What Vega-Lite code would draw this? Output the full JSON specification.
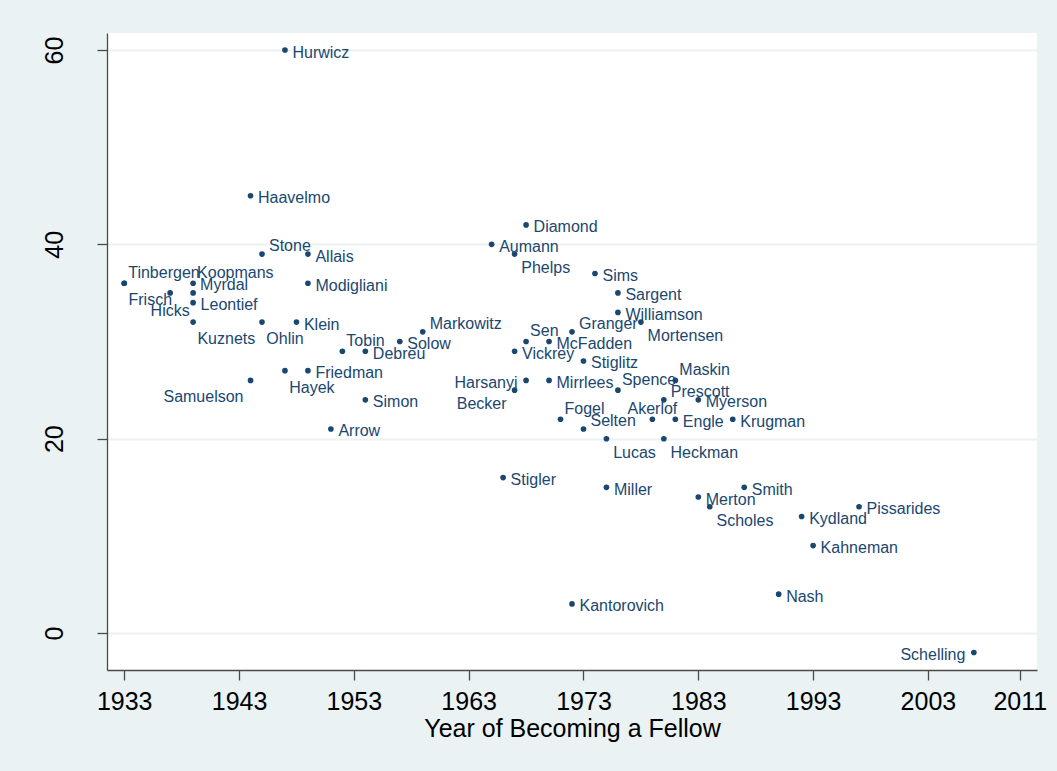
{
  "$schema": "https://vega.github.io/schema/vega-lite/v6.json",
  "width": 930,
  "height": 637,
  "autosize": {"type": "none"},
  "padding": {"left": 107, "top": 33, "right": 20, "bottom": 101},
  "background": "#EAF2F3",
  "config": {"view": {"fill": "white", "stroke": null}, "font": "Liberation Sans"},
  "data": {"values": [
    {"name": "Hurwicz", "fellow": 1947, "lag": 60, "labpos": 3},
    {"name": "Haavelmo", "fellow": 1944, "lag": 45, "labpos": 3},
    {"name": "Stone", "fellow": 1945, "lag": 39, "labpos": 2},
    {"name": "Allais", "fellow": 1949, "lag": 39, "labpos": 3},
    {"name": "Tinbergen", "fellow": 1933, "lag": 36, "labpos": 1},
    {"name": "Frisch", "fellow": 1933, "lag": 36, "labpos": 5},
    {"name": "Koopmans", "fellow": 1939, "lag": 36, "labpos": 1},
    {"name": "Myrdal", "fellow": 1939, "lag": 35, "labpos": 2},
    {"name": "Hicks", "fellow": 1937, "lag": 35, "labpos": 6},
    {"name": "Leontief", "fellow": 1939, "lag": 34, "labpos": 3},
    {"name": "Modigliani", "fellow": 1949, "lag": 36, "labpos": 3},
    {"name": "Kuznets", "fellow": 1939, "lag": 32, "labpos": 5},
    {"name": "Ohlin", "fellow": 1945, "lag": 32, "labpos": 5},
    {"name": "Klein", "fellow": 1948, "lag": 32, "labpos": 3},
    {"name": "Tobin", "fellow": 1952, "lag": 29, "labpos": 1},
    {"name": "Debreu", "fellow": 1954, "lag": 29, "labpos": 3},
    {"name": "Solow", "fellow": 1957, "lag": 30, "labpos": 3},
    {"name": "Markowitz", "fellow": 1959, "lag": 31, "labpos": 2},
    {"name": "Friedman", "fellow": 1949, "lag": 27, "labpos": 3},
    {"name": "Hayek", "fellow": 1947, "lag": 27, "labpos": 5},
    {"name": "Samuelson", "fellow": 1944, "lag": 26, "labpos": 7},
    {"name": "Simon", "fellow": 1954, "lag": 24, "labpos": 3},
    {"name": "Arrow", "fellow": 1951, "lag": 21, "labpos": 3},
    {"name": "Diamond", "fellow": 1968, "lag": 42, "labpos": 3},
    {"name": "Aumann", "fellow": 1965, "lag": 40, "labpos": 3},
    {"name": "Phelps", "fellow": 1967, "lag": 39, "labpos": 4},
    {"name": "Sims", "fellow": 1974, "lag": 37, "labpos": 3},
    {"name": "Sargent", "fellow": 1976, "lag": 35, "labpos": 3},
    {"name": "Williamson", "fellow": 1976, "lag": 33, "labpos": 3},
    {"name": "Mortensen", "fellow": 1978, "lag": 32, "labpos": 4},
    {"name": "Granger", "fellow": 1972, "lag": 31, "labpos": 2},
    {"name": "Sen", "fellow": 1968, "lag": 30, "labpos": 1},
    {"name": "McFadden", "fellow": 1970, "lag": 30, "labpos": 3},
    {"name": "Vickrey", "fellow": 1967, "lag": 29, "labpos": 3},
    {"name": "Stiglitz", "fellow": 1973, "lag": 28, "labpos": 3},
    {"name": "Harsanyi", "fellow": 1968, "lag": 26, "labpos": 9},
    {"name": "Becker", "fellow": 1967, "lag": 25, "labpos": 8},
    {"name": "Mirrlees", "fellow": 1970, "lag": 26, "labpos": 3},
    {"name": "Spence", "fellow": 1976, "lag": 25, "labpos": 1},
    {"name": "Maskin", "fellow": 1981, "lag": 26, "labpos": 1},
    {"name": "Prescott", "fellow": 1980, "lag": 24, "labpos": 2},
    {"name": "Myerson", "fellow": 1983, "lag": 24, "labpos": 3},
    {"name": "Akerlof", "fellow": 1979, "lag": 22, "labpos": 12},
    {"name": "Engle", "fellow": 1981, "lag": 22, "labpos": 3},
    {"name": "Krugman", "fellow": 1986, "lag": 22, "labpos": 3},
    {"name": "Fogel", "fellow": 1971, "lag": 22, "labpos": 1},
    {"name": "Selten", "fellow": 1973, "lag": 21, "labpos": 2},
    {"name": "Lucas", "fellow": 1975, "lag": 20, "labpos": 4},
    {"name": "Heckman", "fellow": 1980, "lag": 20, "labpos": 4},
    {"name": "Stigler", "fellow": 1966, "lag": 16, "labpos": 3},
    {"name": "Miller", "fellow": 1975, "lag": 15, "labpos": 3},
    {"name": "Merton", "fellow": 1983, "lag": 14, "labpos": 3},
    {"name": "Scholes", "fellow": 1984, "lag": 13, "labpos": 4},
    {"name": "Smith", "fellow": 1987, "lag": 15, "labpos": 3},
    {"name": "Kydland", "fellow": 1992, "lag": 12, "labpos": 3},
    {"name": "Pissarides", "fellow": 1997, "lag": 13, "labpos": 3},
    {"name": "Kahneman", "fellow": 1993, "lag": 9, "labpos": 3},
    {"name": "Nash", "fellow": 1990, "lag": 4, "labpos": 3},
    {"name": "Kantorovich", "fellow": 1972, "lag": 3, "labpos": 3},
    {"name": "Schelling", "fellow": 2007, "lag": -2, "labpos": 9}
  ]},
  "encoding": {
    "x": {
      "field": "fellow", "type": "quantitative",
      "scale": {"domain": [1931.5, 2012.5], "nice": false, "zero": false},
      "axis": {
        "values": [1933, 1943, 1953, 1963, 1973, 1983, 1993, 2003, 2011],
        "format": "d", "grid": false,
        "title": "Year of Becoming a Fellow",
        "titleFont": "Liberation Sans", "titleFontSize": 25, "titleFontWeight": "normal", "titleColor": "black", "titlePadding": 2,
        "labelFont": "Liberation Sans", "labelFontSize": 25, "labelColor": "black", "labelPadding": 9,
        "labelFlush": false, "labelOverlap": false,
        "tickSize": 10, "tickColor": "#4a4a4a", "tickWidth": 1.3,
        "domainColor": "#4a4a4a", "domainWidth": 1.3
      }
    },
    "y": {
      "field": "lag", "type": "quantitative",
      "scale": {"domain": [-3.8, 61.75], "nice": false, "zero": false},
      "axis": {
        "values": [0, 20, 40, 60], "title": null,
        "grid": true, "gridColor": "#EAF2F3", "gridWidth": 2.2,
        "labelFont": "Liberation Sans", "labelFontSize": 25, "labelColor": "black",
        "labelAngle": 270, "labelAlign": "center", "labelBaseline": "alphabetic", "labelPadding": 35,
        "labelOverlap": false,
        "tickSize": 10, "tickColor": "#4a4a4a", "tickWidth": 1.3,
        "domainColor": "#4a4a4a", "domainWidth": 1.3
      }
    }
  },
  "layer": [
    {"mark": {"type": "point", "filled": true, "size": 32, "color": "#1A476F", "opacity": 1}},
    {"transform": [{"filter": "datum.labpos == 1"}], "mark": {"type": "text", "align": "left", "baseline": "middle", "dx": 4, "dy": -10.6, "fontSize": 16, "color": "#1A476F"}, "encoding": {"text": {"field": "name"}}},
    {"transform": [{"filter": "datum.labpos == 2"}], "mark": {"type": "text", "align": "left", "baseline": "middle", "dx": 7, "dy": -8.1, "fontSize": 16, "color": "#1A476F"}, "encoding": {"text": {"field": "name"}}},
    {"transform": [{"filter": "datum.labpos == 3"}], "mark": {"type": "text", "align": "left", "baseline": "middle", "dx": 7.5, "dy": 2.5, "fontSize": 16, "color": "#1A476F"}, "encoding": {"text": {"field": "name"}}},
    {"transform": [{"filter": "datum.labpos == 4"}], "mark": {"type": "text", "align": "left", "baseline": "middle", "dx": 6.7, "dy": 14.2, "fontSize": 16, "color": "#1A476F"}, "encoding": {"text": {"field": "name"}}},
    {"transform": [{"filter": "datum.labpos == 5"}], "mark": {"type": "text", "align": "left", "baseline": "middle", "dx": 4.3, "dy": 16.9, "fontSize": 16, "color": "#1A476F"}, "encoding": {"text": {"field": "name"}}},
    {"transform": [{"filter": "datum.labpos == 6"}], "mark": {"type": "text", "align": "center", "baseline": "middle", "dx": 0, "dy": 17.6, "fontSize": 16, "color": "#1A476F"}, "encoding": {"text": {"field": "name"}}},
    {"transform": [{"filter": "datum.labpos == 7"}], "mark": {"type": "text", "align": "right", "baseline": "middle", "dx": -7, "dy": 16.9, "fontSize": 16, "color": "#1A476F"}, "encoding": {"text": {"field": "name"}}},
    {"transform": [{"filter": "datum.labpos == 8"}], "mark": {"type": "text", "align": "right", "baseline": "middle", "dx": -8, "dy": 13.6, "fontSize": 16, "color": "#1A476F"}, "encoding": {"text": {"field": "name"}}},
    {"transform": [{"filter": "datum.labpos == 9"}], "mark": {"type": "text", "align": "right", "baseline": "middle", "dx": -8.5, "dy": 2.4, "fontSize": 16, "color": "#1A476F"}, "encoding": {"text": {"field": "name"}}},
    {"transform": [{"filter": "datum.labpos == 12"}], "mark": {"type": "text", "align": "center", "baseline": "middle", "dx": 0, "dy": -10.4, "fontSize": 16, "color": "#1A476F"}, "encoding": {"text": {"field": "name"}}}
  ]
}
